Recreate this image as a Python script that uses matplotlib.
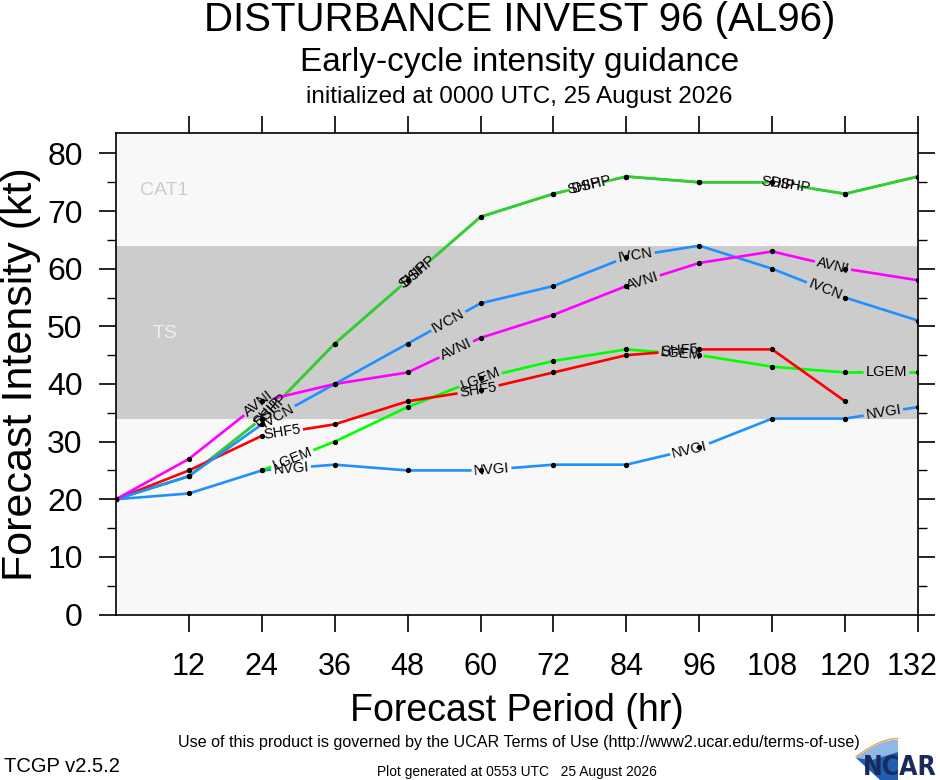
import numpy as np
import matplotlib
matplotlib.use("Agg")
import matplotlib.pyplot as plt
from matplotlib.patches import Polygon
from matplotlib.transforms import ScaledTranslation

# forecast hours and model intensities (kt)
hours = [0, 12, 24, 36, 48, 60, 72, 84, 96, 108, 120, 132]
hours_lgem = [24, 36, 48, 60, 72, 84, 96, 108, 120, 132]
hours_shf5 = [0, 12, 24, 36, 48, 60, 72, 84, 96, 108, 120]

ship = [20, 24, 34, 47, 58, 69, 73, 76, 75, 75, 73, 76]
dshp = [20, 24, 34, 47, 58, 69, 73, 76, 75, 75, 73, 76]
ivcn = [20, 24, 33, 40, 47, 54, 57, 62, 64, 60, 55, 51]
avni = [20, 27, 37, 40, 42, 48, 52, 57, 61, 63, 60, 58]
shf5 = [20, 25, 31, 33, 37, 39, 42, 45, 46, 46, 37]
lgem = [25, 30, 36, 41, 44, 46, 45, 43, 42, 42]
nvgi = [20, 21, 25, 26, 25, 25, 26, 26, 29, 34, 34, 36]

x_ticks = [12, 24, 36, 48, 60, 72, 84, 96, 108, 120, 132]
y_ticks = [0, 10, 20, 30, 40, 50, 60, 70, 80]

font = "Liberation Sans"
LAB_FS = 10.5

fig = plt.figure(figsize=(9.4, 7.8), dpi=100)
ax = fig.add_axes([116 / 940, 1 - 614.5 / 780, (918 - 116) / 940, (614.5 - 133.3) / 780])
ax.set_xlim(0, 132)
ax.set_ylim(0, 83.5)
ax.set_facecolor("#f8f8f8")
ax.axhspan(34, 64, color="#cccccc", lw=0, zorder=0)
ax.text(8, 73.6, "CAT1", color="#cccccc", fontsize=14, family=font, ha="center", va="center")
ax.text(8, 48.8, "TS", color="#eeeeee", fontsize=14, family=font, ha="center", va="center")

series = [
    ("SHIP", hours, ship, "#33cc33", [25, 49, 77, 109]),
    ("DSHP", hours, dshp, "#33cc33", [25.5, 49.8, 78.3, 111]),
    ("NVGI", hours, nvgi, "#1e90ff", [28.8, 61.8, 94.4, 126.3]),
    ("LGEM", hours_lgem, lgem, "#00ff00", [29, 60, 93, 126.8]),
    ("SHF5", hours_shf5, shf5, "#ff0000", [27.4, 59.6, 92.7]),
    ("IVCN", hours, ivcn, "#1e90ff", [26.6, 54.7, 85.5, 116.7]),
    ("AVNI", hours, avni, "#ff00ff", [23.5, 56, 86.6, 118]),
]

fig.canvas.draw()
rend = fig.canvas.get_renderer()
px_per_hr = ax.transData.transform((1, 0))[0] - ax.transData.transform((0, 0))[0]

for i, (name, xs, ys, col, lab_x) in enumerate(series):
    z = 2 + i * 0.1
    probe = ax.text(0, 0, name, fontsize=LAB_FS, family=font)
    w = probe.get_window_extent(rend).width + 4
    probe.remove()
    gaps = []
    for lx in lab_x:
        ly = np.interp(lx, xs, ys)
        k = min(max(1, np.searchsorted(xs, lx)), len(xs) - 1)
        p1 = ax.transData.transform((xs[k - 1], ys[k - 1]))
        p2 = ax.transData.transform((xs[k], ys[k]))
        ang = np.arctan2(p2[1] - p1[1], p2[0] - p1[0])
        half = 0.5 * w * np.cos(ang) / px_per_hr
        gaps.append((lx - half, lx + half))
        ax.text(lx, ly, name, rotation=np.degrees(ang), rotation_mode="anchor",
                ha="center", va="center", fontsize=LAB_FS, family=font, color="black", zorder=5)
    gx = sorted(set(list(xs) + [g for ab in gaps for g in ab] + [0.5 * (a + b) for a, b in gaps]))
    gx = np.array(gx)
    gy = np.interp(gx, xs, ys)
    for a, b in gaps:
        gy[(gx > a) & (gx < b)] = np.nan
    ax.plot(gx, gy, color=col, lw=1.9, zorder=z, solid_capstyle="butt")
    ax.plot(xs, ys, ls="none", marker="o", ms=2.8, color="black", zorder=4)

ax.set_xticks(x_ticks)
ax.set_yticks(y_ticks)
ax.set_yticks(np.arange(5, 85, 10), minor=True)
ax.tick_params(axis="both", which="major", direction="out", length=12, width=1.2,
               labelsize=23, top=True, right=True, pad=12)
ax.tick_params(axis="y", which="minor", direction="out", length=6.5, width=1, right=True)
ax.tick_params(axis="x", which="major", pad=15, labelsize=22)
for lab in ax.get_xticklabels() + ax.get_yticklabels():
    lab.set_family(font)
# last x label sits against the figure edge, nudge it left a little
last = ax.get_xticklabels()[-1]
last.set_transform(last.get_transform() + ScaledTranslation(-6 / 100, 0, fig.dpi_scale_trans))
for sp in ax.spines.values():
    sp.set_linewidth(1.2)

ax.set_xlabel("Forecast Period (hr)", fontsize=27, family=font, labelpad=8)
ax.set_ylabel("Forecast Intensity (kt)", fontsize=31, family=font, labelpad=4)

fig.text(520 / 940, 1 - 20 / 780, "DISTURBANCE INVEST 96 (AL96)", fontsize=29, family=font,
         ha="center", va="center")
fig.text(520 / 940, 1 - 62 / 780, "Early-cycle intensity guidance", fontsize=24, family=font,
         ha="center", va="center")
fig.text(519 / 940, 1 - 97 / 780, "initialized at 0000 UTC, 25 August 2026", fontsize=17.5,
         family=font, ha="center", va="center")

fig.text(519 / 940, 1 - 742 / 780,
         "Use of this product is governed by the UCAR Terms of Use (http://www2.ucar.edu/terms-of-use)",
         fontsize=11.6, family=font, ha="center", va="center")
fig.text(4 / 940, 1 - 767 / 780, "TCGP v2.5.2", fontsize=14.5, family=font, ha="left", va="center")
fig.text(517 / 940, 1 - 772 / 780, "Plot generated at 0553 UTC   25 August 2026", fontsize=9.9,
         family=font, ha="center", va="center")

# NCAR logo swoosh
arc_t = np.linspace(0, 1, 20)
arc_x = 856 + 42 * arc_t
arc_y = 758 - 18 * np.sin(arc_t * np.pi / 2)
pts = [(x / 940, 1 - y / 780) for x, y in zip(arc_x, arc_y)]
pts += [(898 / 940, 1 - 780 / 780), (880 / 940, 1 - 780 / 780)]
fig.patches.append(Polygon(pts, closed=True, transform=fig.transFigure, fc="#1f5fb0", ec="none"))
pts2 = [(x / 940, 1 - y / 780) for x, y in zip(arc_x, arc_y)]
pts2 += [(898 / 940, 1 - 752 / 780), (872 / 940, 1 - 760 / 780)]
fig.patches.append(Polygon(pts2, closed=True, transform=fig.transFigure, fc="#8fb8e6", ec="none"))
fig.lines.append(plt.Line2D(arc_x / 940, 1 - (arc_y - 1.5) / 780, transform=fig.transFigure,
                            color="#f0a040", lw=1))
fig.text(937 / 940, 1 - 768 / 780, "NCAR", fontsize=19, family="DejaVu Sans", stretch="condensed",
         color="#1b2a5c", ha="right", va="center", fontweight="bold")

fig.savefig("out.png", dpi=100)
